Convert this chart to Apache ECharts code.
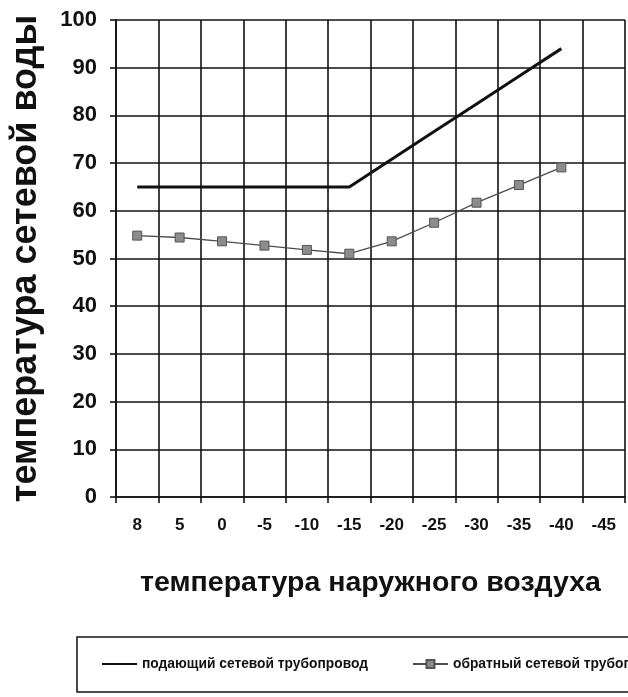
<!DOCTYPE html>
<html>
<head>
<meta charset="utf-8">
<script src="https://cdn.jsdelivr.net/npm/echarts@6/dist/echarts.min.js"></script>
<style>
html,body{margin:0;padding:0;background:#fff;}
#c{width:628px;height:697px;}
</style>
</head>
<body>
<div id="c"></div>
<script>
const categories = ['8','5','0','-5','-10','-15','-20','-25','-30','-35','-40','-45'];
const supplyValues = [65,65,65,65,65,65,70.8,76.6,82.4,88.2,94,null];
const returnValues = [54.8,54.4,53.6,52.7,51.8,51,53.6,57.5,61.7,65.4,69.1,null];
const yTicks = {min:0, max:100, interval:10};
const supplyName = 'подающий сетевой трубопровод';
const returnName = 'обратный сетевой трубопровод';
const xTitle = 'температура наружного воздуха';
const yTitle = 'температура сетевой воды';

const sans = "'Liberation Sans',Arial,sans-serif";
const ink = '#111111';

const chart = echarts.init(document.getElementById('c'), null, {renderer:'canvas'});
chart.setOption({
  animation:false,
  backgroundColor:'#ffffff',
  grid:{left:115, right:3, top:20, bottom:200, containLabel:false},
  xAxis:{
    type:'category',
    data:categories,
    boundaryGap:true,
    name:xTitle,
    nameLocation:'middle',
    nameGap:72,
    nameTextStyle:{fontFamily:sans, fontWeight:'bold', fontSize:28.5, color:ink},
    axisLine:{show:true, lineStyle:{color:ink, width:1.6}},
    axisTick:{show:true, interval:0, length:6, lineStyle:{color:ink, width:1.6}},
    axisLabel:{interval:0, margin:20, fontFamily:sans, fontWeight:'bold', fontSize:17, color:ink},
    splitLine:{show:true, interval:0, lineStyle:{color:ink, width:1.6}}
  },
  yAxis:{
    type:'value',
    min:yTicks.min, max:yTicks.max, interval:yTicks.interval,
    name:yTitle,
    nameLocation:'middle',
    nameGap:72,
    nameRotate:90,
    nameTextStyle:{fontFamily:sans, fontWeight:'bold', fontSize:36, color:ink},
    axisLine:{show:true, lineStyle:{color:ink, width:1.6}},
    axisTick:{show:true, length:6, lineStyle:{color:ink, width:1.6}},
    axisLabel:{margin:19, fontFamily:sans, fontWeight:'bold', fontSize:22, color:ink},
    splitLine:{show:true, lineStyle:{color:ink, width:1.6}}
  },
  legend:{
    left:77, top:637, width:800,
    orient:'horizontal',
    padding:[20,30,21,24],
    itemWidth:35, itemHeight:10, itemGap:44,
    borderColor:ink, borderWidth:1.5,
    backgroundColor:'#fff',
    textStyle:{fontFamily:sans, fontWeight:'bold', fontSize:13.8, color:ink},
    data:[{name:supplyName, itemStyle:{opacity:0}}, {name:returnName}]
  },
  series:[
    {
      name:supplyName, type:'line', data:supplyValues,
      symbol:'none', showSymbol:false,
      lineStyle:{color:'#111', width:3},
      itemStyle:{color:'#111'}
    },
    {
      name:returnName, type:'line', data:returnValues,
      symbol:'rect', symbolSize:9,
      lineStyle:{color:'#4e4a55', width:1.3},
      itemStyle:{color:'#8c8c8c', borderColor:'#555', borderWidth:1}
    }
  ]
});
</script>
</body>
</html>
